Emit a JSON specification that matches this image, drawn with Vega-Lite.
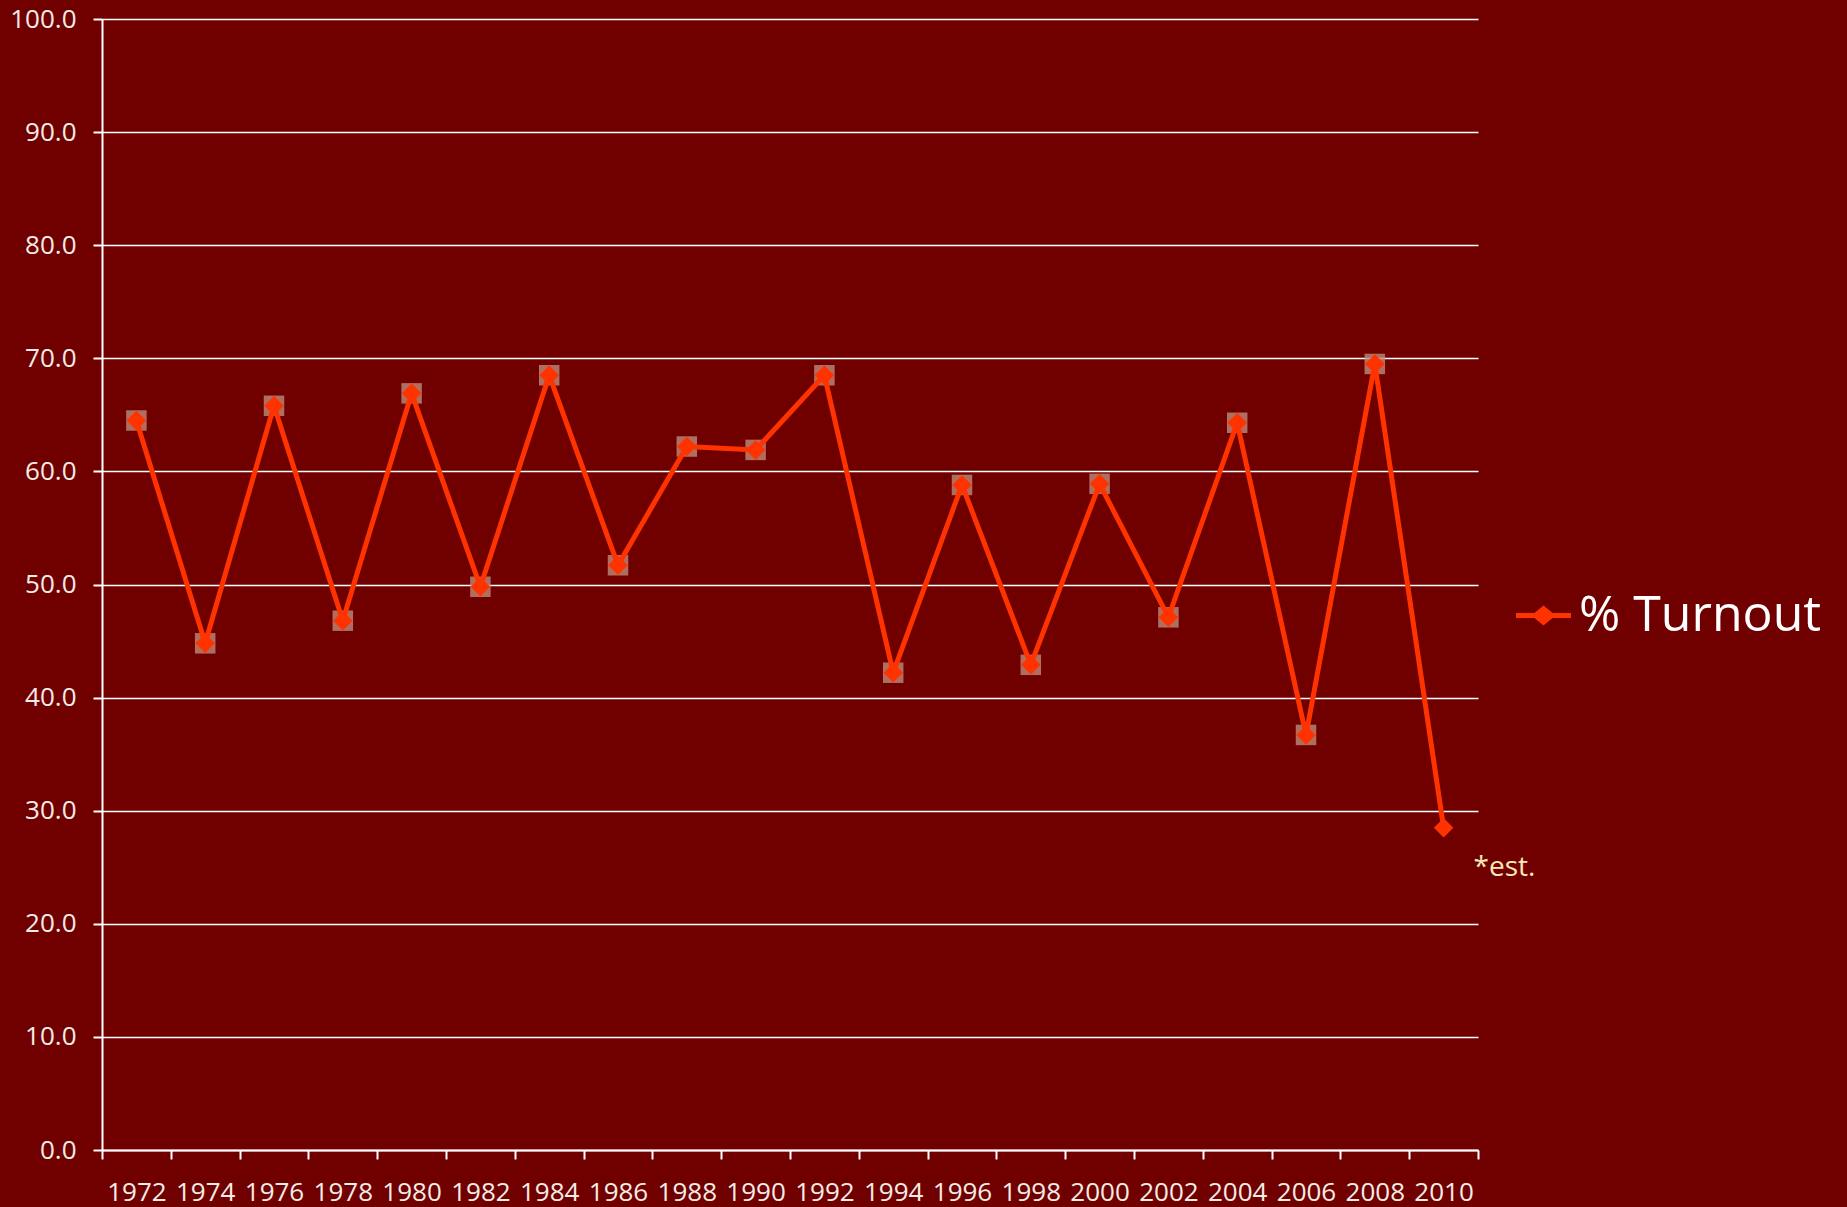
{
  "$schema": "https://vega.github.io/schema/vega-lite/v6.json",
  "width": 1376,
  "height": 1131,
  "autosize": {"type": "none"},
  "padding": {"left": 102, "top": 19, "right": 369, "bottom": 57},
  "background": "#700000",
  "config": {
    "view": {"stroke": null},
    "font": "Open Sans",
    "axis": {
      "labelColor": "#f4ece6",
      "labelFont": "Open Sans",
      "labelFontSize": 26,
      "domainColor": "#ffffff",
      "domainWidth": 2,
      "tickColor": "#ffffff",
      "tickWidth": 2,
      "tickSize": 9,
      "gridColor": "#ffffff",
      "gridWidth": 1.5,
      "gridOpacity": 1,
      "title": null
    }
  },
  "datasets": {
    "turnout": [
      {"year": "1972", "v": 64.5, "series": "% Turnout"},
      {"year": "1974", "v": 44.8, "series": "% Turnout"},
      {"year": "1976", "v": 65.8, "series": "% Turnout"},
      {"year": "1978", "v": 46.8, "series": "% Turnout"},
      {"year": "1980", "v": 66.9, "series": "% Turnout"},
      {"year": "1982", "v": 49.8, "series": "% Turnout"},
      {"year": "1984", "v": 68.5, "series": "% Turnout"},
      {"year": "1986", "v": 51.7, "series": "% Turnout"},
      {"year": "1988", "v": 62.2, "series": "% Turnout"},
      {"year": "1990", "v": 61.9, "series": "% Turnout"},
      {"year": "1992", "v": 68.5, "series": "% Turnout"},
      {"year": "1994", "v": 42.2, "series": "% Turnout"},
      {"year": "1996", "v": 58.8, "series": "% Turnout"},
      {"year": "1998", "v": 42.9, "series": "% Turnout"},
      {"year": "2000", "v": 58.9, "series": "% Turnout"},
      {"year": "2002", "v": 47.1, "series": "% Turnout"},
      {"year": "2004", "v": 64.3, "series": "% Turnout"},
      {"year": "2006", "v": 36.7, "series": "% Turnout"},
      {"year": "2008", "v": 69.5, "series": "% Turnout"},
      {"year": "2010", "v": 28.5, "series": "% Turnout"}
    ],
    "actual": [
      {"year": "1972", "v": 64.5},
      {"year": "1974", "v": 44.8},
      {"year": "1976", "v": 65.8},
      {"year": "1978", "v": 46.8},
      {"year": "1980", "v": 66.9},
      {"year": "1982", "v": 49.8},
      {"year": "1984", "v": 68.5},
      {"year": "1986", "v": 51.7},
      {"year": "1988", "v": 62.2},
      {"year": "1990", "v": 61.9},
      {"year": "1992", "v": 68.5},
      {"year": "1994", "v": 42.2},
      {"year": "1996", "v": 58.8},
      {"year": "1998", "v": 42.9},
      {"year": "2000", "v": 58.9},
      {"year": "2002", "v": 47.1},
      {"year": "2004", "v": 64.3},
      {"year": "2006", "v": 36.7},
      {"year": "2008", "v": 69.5}
    ],
    "note": [
      {"year": "2010", "v": 28.5, "label": "*est."}
    ]
  },
  "encoding": {
    "x": {
      "field": "year",
      "type": "ordinal",
      "bandPosition": 0.5,
      "scale": {"type": "band", "paddingInner": 0, "paddingOuter": 0, "domain": ["1972","1974","1976","1978","1980","1982","1984","1986","1988","1990","1992","1994","1996","1998","2000","2002","2004","2006","2008","2010"]},
      "axis": {"tickBand": "extent", "labelAngle": 0, "grid": false, "labelPadding": 20, "labelFlush": false}
    },
    "y": {
      "field": "v",
      "type": "quantitative",
      "scale": {"domain": [0, 100], "nice": false, "zero": true},
      "axis": {"values": [0,10,20,30,40,50,60,70,80,90,100], "format": ".1f", "grid": true, "labelPadding": 17}
    }
  },
  "layer": [
    {
      "data": {"name": "actual"},
      "mark": {"type": "point", "shape": "square", "filled": true, "size": 420, "color": "#bf8a78", "opacity": 0.8}
    },
    {
      "data": {"name": "turnout"},
      "mark": {"type": "line", "color": "#ff3300", "strokeWidth": 5}
    },
    {
      "data": {"name": "turnout"},
      "mark": {"type": "point", "shape": "diamond", "filled": true, "size": 380, "opacity": 1},
      "encoding": {
        "color": {
          "field": "series",
          "type": "nominal",
          "scale": {"range": ["#ff3300"]},
          "legend": {
            "title": null,
            "orient": "none",
            "legendX": 1414,
            "legendY": 569,
            "labelColor": "#ffffff",
            "labelFont": "Open Sans",
            "labelFontSize": 50,
            "labelLimit": 0,
            "labelOffset": 8,
            "symbolSize": 3025,
            "symbolStrokeWidth": 0,
            "symbolOpacity": 1,
            "encode": {
              "symbols": {
                "update": {
                  "shape": {"value": "M-1,-0.09L-0.33,-0.09L0,-0.36L0.33,-0.09L1,-0.09L1,0.09L0.33,0.09L0,0.36L-0.33,0.09L-1,0.09Z"},
                  "fill": {"value": "#ff3300"},
                  "stroke": {"value": "transparent"}
                }
              }
            }
          }
        }
      }
    },
    {
      "data": {"name": "note"},
      "mark": {"type": "text", "align": "left", "baseline": "middle", "dx": 30, "dy": 40, "fontSize": 28, "color": "#f7e8b8", "font": "Open Sans"},
      "encoding": {"text": {"field": "label"}}
    }
  ]
}
